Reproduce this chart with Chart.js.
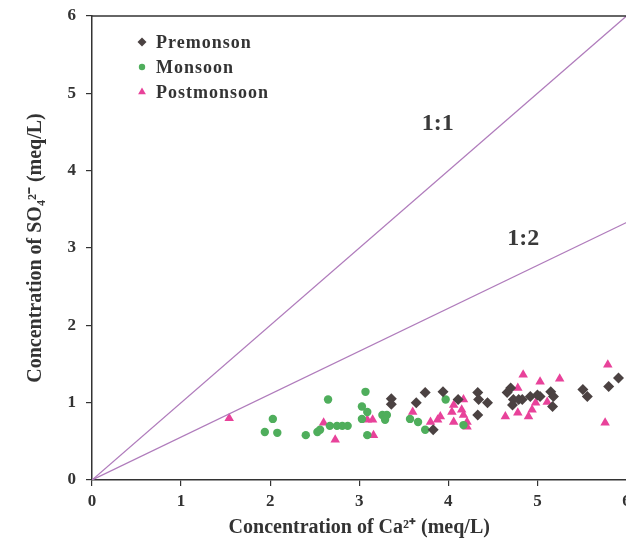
<!DOCTYPE html>
<html>
<head>
<meta charset="utf-8">
<script src="https://cdn.jsdelivr.net/npm/chart.js@4"></script>
<style>
  html, body { margin: 0; padding: 0; background: #fff; overflow: hidden; }
  /* the scanned figure is cut at its right edge, so the canvas runs past the window */
  #wrap { width: 632px; height: 547px; }
</style>
</head>
<body>
<div id="wrap"><canvas id="chart"></canvas></div>
<script>
// Ca2+ (x) and SO4 2- (y), meq/L
const premonsoonCa = [3.36, 3.36, 3.64, 3.74, 3.94, 3.83, 4.11, 4.33, 4.34, 4.44, 4.33, 4.66, 4.70, 4.73, 4.79, 4.83, 4.72, 4.92, 5.00, 5.03, 5.15, 5.18, 5.17, 5.51, 5.56, 5.80, 5.91];
const premonsoonSO4 = [1.05, 0.98, 1.00, 1.13, 1.14, 0.65, 1.04, 1.13, 1.04, 1.00, 0.84, 1.13, 1.19, 1.04, 1.04, 1.04, 0.97, 1.08, 1.10, 1.08, 1.14, 1.08, 0.95, 1.17, 1.08, 1.21, 1.32];

const monsoonCa = [2.03, 1.94, 2.08, 2.65, 2.40, 2.53, 2.56, 2.67, 2.75, 2.81, 2.87, 3.07, 3.03, 3.09, 3.03, 3.26, 3.31, 3.29, 3.09, 3.57, 3.66, 3.74, 3.97, 4.17];
const monsoonSO4 = [0.79, 0.62, 0.61, 1.04, 0.58, 0.62, 0.65, 0.70, 0.70, 0.70, 0.70, 1.14, 0.95, 0.88, 0.79, 0.84, 0.84, 0.78, 0.58, 0.79, 0.75, 0.65, 1.04, 0.71];

const postmonsoonCa = [1.54, 2.60, 2.73, 3.09, 3.15, 3.16, 3.60, 3.80, 3.88, 3.91, 4.04, 4.06, 4.17, 4.15, 4.17, 4.06, 4.21, 4.21, 4.64, 4.78, 4.84, 4.78, 4.90, 4.94, 4.98, 5.03, 5.11, 5.25, 5.79, 5.76];
const postmonsoonSO4 = [0.80, 0.74, 0.52, 0.78, 0.78, 0.58, 0.88, 0.75, 0.78, 0.82, 0.88, 0.97, 1.04, 0.91, 0.84, 0.75, 0.75, 0.69, 0.82, 1.19, 1.36, 0.87, 0.82, 0.91, 1.00, 1.27, 1.01, 1.31, 1.49, 0.74];

// reference lines, end points in data units
const lineNames = ["1:1", "1:2"];
const lineEndCa = [6, 6];
const lineEndSO4 = [6, 3.33];
const lineLabelCa = [3.88, 4.84];
const lineLabelSO4 = [4.61, 3.12];

const axisTicks = [0, 1, 2, 3, 4, 5, 6];

const textColor = "#333";
const serif = "'Liberation Serif', 'Times New Roman', serif";

const toPoints = (xs, ys) => xs.map((x, i) => ({ x: x, y: ys[i] }));

// legend, ratio labels and top border drawn in the plot
const extras = {
    id: "extras",
    afterDatasetsDraw(chart) {
        const ctx = chart.ctx;
        const area = chart.chartArea;
        const sx = chart.scales.x;
        const sy = chart.scales.y;
        ctx.save();

        // top frame line
        ctx.strokeStyle = textColor;
        ctx.lineWidth = 1.5;
        ctx.beginPath();
        ctx.moveTo(area.left, area.top);
        ctx.lineTo(area.right, area.top);
        ctx.stroke();

        // 1:1 / 1:2 labels
        ctx.fillStyle = "#3a3a3a";
        ctx.font = "bold 24px " + serif;
        ctx.textAlign = "center";
        ctx.textBaseline = "middle";
        lineNames.forEach((name, i) => {
            ctx.fillText(name, sx.getPixelForValue(lineLabelCa[i]), sy.getPixelForValue(lineLabelSO4[i]));
        });

        // legend inside the plot
        const items = chart.data.datasets.filter((d) => !d.showLine);
        ctx.font = "bold 18px " + serif;
        ctx.textAlign = "left";
        ctx.letterSpacing = "1px";
        items.forEach((d, i) => {
            const y = 42 + i * 25;
            ctx.fillStyle = d.backgroundColor;
            ctx.strokeStyle = d.backgroundColor;
            Chart.helpers.drawPoint(ctx, { pointStyle: d.pointStyle, radius: d.pointRadius - 1, rotation: 0, borderWidth: 0 }, 142, y);
            ctx.fillStyle = textColor;
            ctx.fillText(d.label, 156, y + 1);
        });
        ctx.restore();
    },
};

const lineDatasets = lineNames.map((name, i) => ({
    label: name,
    data: [{ x: 0, y: 0 }, { x: lineEndCa[i], y: lineEndSO4[i] }],
    showLine: true,
    borderColor: "#b07cbc",
    borderWidth: 1.3,
    pointRadius: 0,
}));

new Chart(document.getElementById("chart"), {
    type: "scatter",
    data: {
        datasets: [
            ...lineDatasets,
            {
                label: "Premonson",
                data: toPoints(premonsoonCa, premonsoonSO4),
                pointStyle: "rectRot",
                pointRadius: 5.5,
                backgroundColor: "#4b4242",
                borderColor: "#4b4242",
                borderWidth: 0,
            },
            {
                label: "Monsoon",
                data: toPoints(monsoonCa, monsoonSO4),
                pointStyle: "circle",
                pointRadius: 4.2,
                backgroundColor: "#4fae5c",
                borderColor: "#4fae5c",
                borderWidth: 0,
            },
            {
                label: "Postmonsoon",
                data: toPoints(postmonsoonCa, postmonsoonSO4),
                pointStyle: "triangle",
                pointRadius: 5.5,
                backgroundColor: "#e8429a",
                borderColor: "#e8429a",
                borderWidth: 0,
            },
        ],
    },
    options: {
        responsive: true,
        maintainAspectRatio: false,
        animation: false,
        layout: { padding: { top: 16, left: 0, right: 0, bottom: 0 } },
        plugins: {
            legend: { display: false },
            tooltip: { enabled: false },
        },
        scales: {
            x: {
                type: "linear",
                min: 0,
                max: 6,
                afterBuildTicks: (s) => { s.ticks = axisTicks.map((v) => ({ value: v })); },
                afterFit: (s) => { s.height = 67; s.paddingLeft = 0; s.paddingRight = 0; },
                grid: { drawOnChartArea: false, tickLength: 6, color: textColor, lineWidth: 1.2 },
                border: { color: textColor, width: 1.5 },
                ticks: { color: textColor, padding: 5, font: { family: serif, size: 17, weight: "bold" } },
                title: {
                    display: true,
                    text: "Concentration of Ca²⁺ (meq/L)",
                    color: textColor,
                    padding: { top: 0, bottom: 7 },
                    font: { family: serif, size: 20, weight: "bold" },
                },
            },
            y: {
                type: "linear",
                min: 0,
                max: 6,
                afterBuildTicks: (s) => { s.ticks = axisTicks.map((v) => ({ value: v })); },
                afterFit: (s) => { s.width = 92; s.paddingTop = 0; s.paddingBottom = 0; },
                grid: { drawOnChartArea: false, tickLength: 6, color: textColor, lineWidth: 1.2 },
                border: { color: textColor, width: 1.5 },
                ticks: { color: textColor, padding: 10, font: { family: serif, size: 17, weight: "bold" } },
                title: {
                    display: true,
                    text: "Concentration of SO₄²⁻ (meq/L)",
                    color: textColor,
                    padding: { top: 24, bottom: 0 },
                    font: { family: serif, size: 20, weight: "bold" },
                },
            },
        },
    },
    plugins: [extras],
});
</script>
</body>
</html>
